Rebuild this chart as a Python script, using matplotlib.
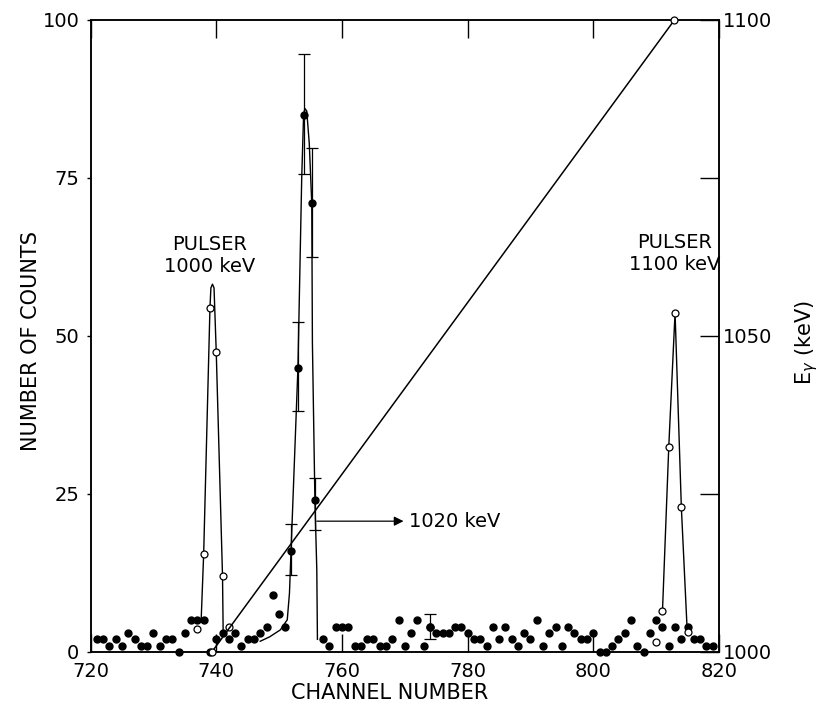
import matplotlib
matplotlib.use("Agg")
import matplotlib.pyplot as plt

# ---------------------------------------------------------------------
# data
# ---------------------------------------------------------------------
# background channels (filled dots)
bg_channel_a = list(range(721, 752))
bg_counts_a = [2, 2, 1, 2, 1, 3, 2, 1, 1, 3, 1, 2, 2, 0, 3, 5, 5, 5, 0, 2,
               3, 2, 3, 1, 2, 2, 3, 4, 9, 6, 4]
bg_channel_b = list(range(757, 820))
bg_counts_b = [2, 1, 4, 4, 4, 1, 1, 2, 2, 1,
               1, 2, 5, 1, 3, 5, 1, 4, 3, 3,
               3, 4, 4, 3, 2, 2, 1, 4, 2, 4,
               2, 1, 3, 2, 5, 1, 3, 4, 1, 4,
               3, 2, 2, 3, 0, 0, 1, 2, 3, 5,
               1, 0, 3, 5, 4, 1, 4, 2, 4, 2,
               2, 1, 1]

# gamma line (filled dots with error bars)
peak_channel = [751.9, 753.0, 753.9, 755.2, 755.7]
peak_counts = [16, 45, 85, 71, 24]
peak_upper = [20.2, 52.2, 94.6, 79.7, 27.6]
peak_lower = [12.2, 38.1, 75.6, 62.5, 19.3]

# single error bar in the background
bar_channel = [774]
bar_counts = [4]
bar_err = [2]

# pulser peaks (open circles)
pulser1_channel = [737, 738, 739, 740, 741, 742]
pulser1_counts = [3.6, 15.5, 54.4, 47.5, 12.0, 3.9]
pulser2_channel = [810, 811, 812, 813, 814, 815]
pulser2_counts = [1.6, 6.5, 32.5, 53.7, 22.9, 3.2]

# hand drawn curves through the peaks
pulser1_curve_x = [737.6, 738.0, 739.0, 739.15, 739.4, 739.65, 740.0, 741.0, 741.1]
pulser1_curve_y = [5.0, 15.5, 54.4, 57.6, 58.2, 57.6, 47.5, 12.0, 3.3]
pulser2_curve_x = [811.0, 812.0, 813.0, 814.0, 814.9]
pulser2_curve_y = [6.5, 32.5, 53.7, 22.9, 4.0]
peak_curve_x = [747.0, 748.5, 750.2, 751.3, 751.65, 751.9, 753.0, 753.6, 753.9,
                754.1, 754.4, 754.8, 755.2, 755.3, 755.7, 756.0, 756.1]
peak_curve_y = [1.7, 2.4, 3.5, 5.1, 9.3, 16.0, 45.0, 75.0, 85.0,
                86.0, 85.6, 80.5, 71.0, 49.0, 24.0, 13.0, 2.0]

# energy calibration (right axis)
calib_channel = [739.3, 812.9]
calib_energy = [1000, 1100]

x_ticks = [720, 740, 760, 780, 800, 820]
y_ticks = [0, 25, 50, 75, 100]
e_ticks = [1000, 1025, 1050, 1075, 1100]
e_labels = ["1000", "", "1050", "", "1100"]

# ---------------------------------------------------------------------
plt.rcParams["font.family"] = ["DejaVu Sans"]
fig = plt.figure(figsize=(8.2, 7.09), dpi=100)
ax = fig.add_axes([0.1104, 0.0804, 0.7665, 0.8914])
ax2 = ax.twinx()

for a in (ax, ax2):
    for s in a.spines.values():
        s.set_linewidth(1.1)

ax.set_xlim(720, 820)
ax.set_ylim(0, 100)
ax2.set_ylim(1000, 1100)

# curves
ax.plot(pulser1_curve_x, pulser1_curve_y, color="k", lw=1.0, zorder=2)
ax.plot(pulser2_curve_x, pulser2_curve_y, color="k", lw=1.0, zorder=2)
ax.plot(peak_curve_x, peak_curve_y, color="k", lw=1.0, zorder=2)
ax2.plot(calib_channel, calib_energy, color="k", lw=1.1, zorder=2)

# background dots
ax.plot(bg_channel_a, bg_counts_a, "o", color="k", ms=5, clip_on=False, zorder=3)
ax.plot(bg_channel_b, bg_counts_b, "o", color="k", ms=5, clip_on=False, zorder=3)

# peak with error bars
err_lo = [c - l for c, l in zip(peak_counts, peak_lower)]
err_hi = [u - c for c, u in zip(peak_counts, peak_upper)]
ax.errorbar(peak_channel, peak_counts, yerr=[err_lo, err_hi], fmt="o", color="k",
            ms=5, elinewidth=0.9, capsize=4, capthick=0.9, zorder=3)
ax.errorbar(bar_channel, bar_counts, yerr=bar_err, fmt="o", color="k",
            ms=5, elinewidth=0.9, capsize=4, capthick=0.9, zorder=3)

# pulser points
ax.plot(pulser1_channel, pulser1_counts, "o", mfc="white", mec="k", mew=0.9,
        ms=5, zorder=4)
ax.plot(pulser2_channel, pulser2_counts, "o", mfc="white", mec="k", mew=0.9,
        ms=5, zorder=4)
ax2.plot(calib_channel, calib_energy, "o", mfc="white", mec="k", mew=0.9,
         ms=5, clip_on=False, zorder=4)

# annotations
ax.text(738.9, 62.8, "PULSER\n1000 keV", ha="center", va="center",
        fontsize=14, linespacing=1.2)
ax.text(813.0, 63.1, "PULSER\n1100 keV", ha="center", va="center",
        fontsize=14, linespacing=1.2)
ax.annotate("", xy=(769.8, 20.7), xytext=(756.0, 20.7),
            arrowprops=dict(arrowstyle="-|>", color="k", lw=0.9,
                            mutation_scale=14, shrinkA=0, shrinkB=0))
ax.text(770.6, 20.7, "1020 keV", ha="left", va="center", fontsize=14)

# ticks
ax.set_xticks(x_ticks)
ax.set_yticks(y_ticks)
ax.tick_params(axis="x", direction="in", length=13, width=1.0, top=True,
               labelsize=14, pad=7)
ax.tick_params(axis="y", direction="out", length=3, width=1.0,
               labelsize=14, pad=5)
ax2.set_yticks(e_ticks)
ax2.set_yticklabels(e_labels)
ax2.tick_params(axis="y", direction="in", length=14, width=1.0,
                labelsize=14, pad=3)

ax.set_xlabel("CHANNEL NUMBER", fontsize=15)
ax.xaxis.set_label_coords(0.4765, -0.049)
ax.set_ylabel("NUMBER OF COUNTS", fontsize=15)
ax.yaxis.set_label_coords(-0.079, 0.492)
ax2.set_ylabel(r"E$_{\gamma}$ (keV)", fontsize=15)
ax2.yaxis.set_label_coords(1.118, 0.49)

fig.savefig("out.png", dpi=100)
